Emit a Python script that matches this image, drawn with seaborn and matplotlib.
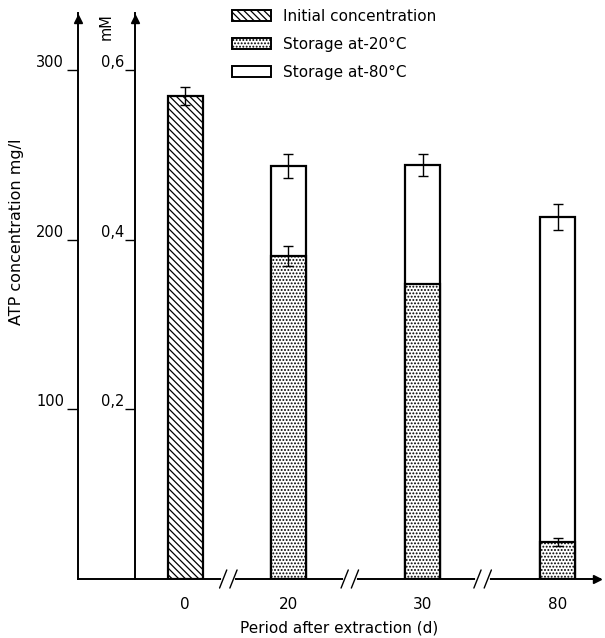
import numpy as np
import pandas as pd
import matplotlib.pyplot as plt
import seaborn as sns
from matplotlib.patches import Patch

# --- data (mg/l) ---
days = ["0", "20", "30", "80"]
initial_days = ["0"]
initial_mg = [284.6]
initial_err = [5.3]
storage_days = ["20", "30", "80"]
minus20_mg = [190.3, 173.8, 21.8]
minus20_err = [6.0, 0.0, 2.4]
minus80_mg = [243.4, 244.0, 213.3]
minus80_err = [7.0, 6.5, 7.7]
mg_ticks = [100, 200, 300]
mm_ticks = [0.2, 0.4, 0.6]
mm_labels = ["0,2", "0,4", "0,6"]
legend_labels = ["Initial concentration", "Storage at-20°C", "Storage at-80°C"]

# layout: the time axis is broken, so bars sit at uneven positions
xpos = {"0": 0.0, "20": 1.0, "30": 2.31, "80": 3.62}
bar_w = 0.34
ymax = 333.5
mg_to_mm = 0.002

sns.set_style("ticks")
plt.rcParams.update({
    "font.family": ["DejaVu Sans"],
    "text.color": "black",
    "axes.labelcolor": "black",
    "axes.edgecolor": "black",
    "axes.linewidth": 1.4,
    "hatch.linewidth": 0.9,
    "xtick.color": "black",
    "ytick.color": "black",
})

fig = plt.figure(figsize=(6.05, 6.38), dpi=100)
ax = fig.add_axes([78 / 605, 1 - 579 / 638, 522 / 605, 566 / 638])


def draw_bars(day_list, values, **kw):
    pos = [xpos[d] for d in day_list]
    df = pd.DataFrame({"pos": pos, "mg": values})
    native = np.diff(sorted(pos)).min() if len(pos) > 1 else 1.0
    sns.barplot(data=df, x="pos", y="mg", native_scale=True, width=bar_w / native,
                errorbar=None, edgecolor="black", linewidth=1.6, ax=ax, **kw)


def draw_err(day_list, values, errs):
    keep = [i for i, e in enumerate(errs) if e > 0]
    ax.errorbar([xpos[day_list[i]] for i in keep], [values[i] for i in keep],
                yerr=[errs[i] for i in keep], fmt="none", ecolor="black",
                elinewidth=1.0, capsize=3.5, capthick=1.0, zorder=6)


draw_bars(storage_days, minus80_mg, color="white")
draw_bars(storage_days, minus20_mg, color="white", hatch=".....")
draw_bars(initial_days, initial_mg, color="white", hatch="\\\\\\\\\\")
draw_err(storage_days, minus80_mg, minus80_err)
draw_err(storage_days, minus20_mg, minus20_err)
draw_err(initial_days, initial_mg, initial_err)

ax.set_xlim(-1.04, 4.03)
ax.set_ylim(0, ymax)
ax.set_xticks([xpos[d] for d in days])
ax.set_xticklabels(days, fontsize=11)
ax.tick_params(axis="x", length=0, pad=13)
ax.set_yticks(mg_ticks)
ax.set_yticklabels([str(t) for t in mg_ticks], fontsize=10.5)
ax.tick_params(axis="y", length=8, width=1.0, pad=2)
plt.setp(ax.get_yticklabels(), va="bottom")
ax.set_xlabel("Period after extraction (d)", fontsize=11, labelpad=6)
ax.set_ylabel("ATP concentration mg/l", fontsize=11.5)
ax.yaxis.set_label_coords(-0.103, 0.613)
sns.despine(ax=ax)

# inner mM axis
inner = 57 / 522
ax2 = ax.twinx()
ax2.set_ylim(0, ymax * mg_to_mm)
for s in ["right", "top", "bottom"]:
    ax2.spines[s].set_visible(False)
ax2.spines["left"].set_visible(True)
ax2.spines["left"].set_position(("axes", inner))
ax2.yaxis.set_ticks_position("left")
ax2.set_yticks(mm_ticks)
ax2.set_yticklabels(mm_labels, fontsize=10.5)
ax2.tick_params(axis="y", length=7, width=1.0, pad=1)
plt.setp(ax2.get_yticklabels(), va="bottom")
fig.text(106 / 605, 1 - 27 / 638, "mM", rotation=90, fontsize=10.5,
         ha="center", va="center")

# arrow heads on the axes
for xa in [0, inner]:
    ax.plot([xa], [0.99], marker="^", color="black", ms=6, transform=ax.transAxes,
            clip_on=False, zorder=7)
ax.plot([0.995], [0], marker=">", color="black", ms=6, transform=ax.transAxes,
        clip_on=False, zorder=7)

# break marks on the time axis
btr = ax.get_xaxis_transform()
for xb in [0.42, 1.6, 2.89]:
    ax.plot([xb - 0.05, xb + 0.05], [0, 0], color="white", lw=3, transform=btr,
            clip_on=False, zorder=8)
    for off in [-0.05, 0.05]:
        ax.plot([xb + off - 0.035, xb + off + 0.035], [-0.016, 0.016], color="black",
                lw=1.0, transform=btr, clip_on=False, zorder=9)

handles = [
    Patch(facecolor="white", edgecolor="black", hatch="\\\\\\\\\\", lw=1.4),
    Patch(facecolor="white", edgecolor="black", hatch=".....", lw=1.4),
    Patch(facecolor="white", edgecolor="black", lw=1.4),
]
fig.legend(handles, legend_labels, loc="upper left", bbox_to_anchor=(0.365, 1.003),
           frameon=False, fontsize=11, handlelength=2.6, handleheight=0.7,
           labelspacing=0.85, handletextpad=0.8, borderpad=0.2)

fig.savefig("out.png", dpi=100)
